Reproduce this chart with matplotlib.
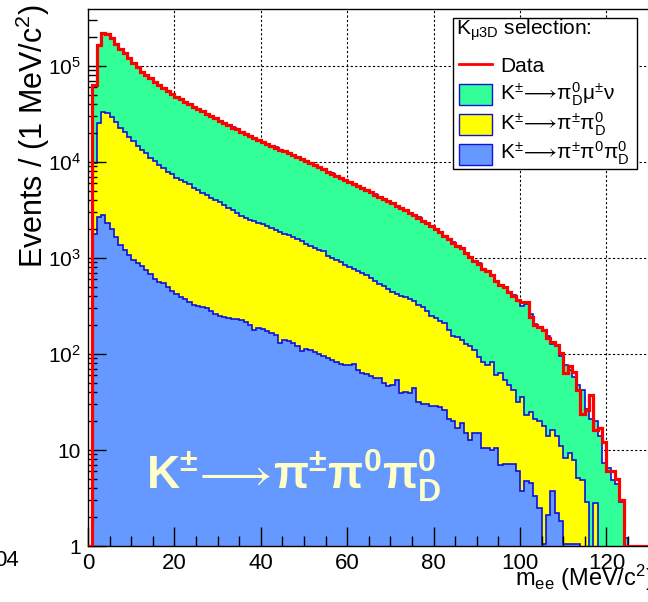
import numpy as np
import matplotlib.pyplot as plt
from matplotlib.patches import Rectangle
from matplotlib.lines import Line2D
from matplotlib.ticker import MultipleLocator, LogLocator, FuncFormatter, NullFormatter

plt.rcParams.update(
    {
        "font.family": ["Liberation Sans", "DejaVu Sans"],
        "mathtext.fontset": "custom",
        "mathtext.rm": "Liberation Sans",
        "mathtext.it": "Liberation Sans",
        "mathtext.bf": "Liberation Sans:bold",
        "mathtext.sf": "Liberation Sans",
        "mathtext.default": "rm",
        "mathtext.fallback": "stixsans",
    }
)

# ==================================================
# data: events per 1 MeV/c^2 bin, bins [0,1) ... [129,130)
# MC values are the stacked tops
# ==================================================
bin_edges = np.arange(0, 131)

data = [
    0, 63000, 166000, 219000, 214000, 195000, 168000, 150000, 136000, 120000,
    108000, 96800, 87300, 80500, 74500, 68700, 63100, 58500, 55000, 50700,
    47900, 45300, 42500, 39800, 37700, 35500, 33900, 31600, 30200, 28500,
    26900, 25700, 24300, 22900, 21900, 20700, 19700, 18600, 17800, 17000,
    16200, 15500, 14800, 14100, 13500, 12900, 12300, 11700, 11200, 10700,
    10200, 9770, 9230, 8810, 8410, 7940, 7590, 7240, 6840, 6530,
    6170, 5890, 5620, 5370, 5070, 4840, 4570, 4370, 4120, 3940,
    3720, 3510, 3310, 3130, 2950, 2790, 2630, 2450, 2290, 2140,
    2000, 1860, 1700, 1580, 1450, 1350, 1260, 1120, 1020, 933,
    871, 776, 724, 661, 575, 525, 501, 447, 407, 363,
    351, 351, 245, 200, 191, 178, 148, 135, 123, 102,
    63, 75, 65, 42, 24, 26, 37, 16, 17, 12,
    6, 6, 5, 3, 0, 0, 0, 0, 0, 0,
]

# K -> pi0_D mu nu  (sum of all three MC samples)
top_kmu3 = [
    0, 62000, 164000, 217000, 213000, 196000, 169000, 149000, 135000, 121000,
    107000, 97200, 87700, 80100, 74200, 68900, 62800, 58700, 54700, 50900,
    47700, 45100, 42700, 39600, 37600, 35700, 33700, 31800, 30000, 28600,
    26800, 25800, 24200, 23100, 21800, 20800, 19600, 18700, 17700, 17100,
    16100, 15600, 14700, 14200, 13400, 13000, 12200, 11800, 11100, 10800,
    10100, 9830, 9280, 8750, 8450, 7900, 7620, 7200, 6880, 6490,
    6210, 5850, 5660, 5330, 5100, 4800, 4600, 4340, 4150, 3910,
    3750, 3480, 3340, 3100, 2980, 2760, 2650, 2430, 2310, 2120,
    2010, 1840, 1710, 1560, 1460, 1330, 1270, 1110, 1030, 920,
    880, 768, 730, 652, 580, 518, 505, 440, 410, 365,
    316, 331, 263, 205, 188, 174, 155, 126, 120, 95,
    77, 68, 58, 48, 42, 27, 21, 20, 14, 7.3,
    6.5, 4.9, 4.4, 2.9, 1.2, 0, 0, 0, 0, 0,
]

# K -> pi pi0_D  (stacked on top of K3pi)
top_k2pi = [
    0, 9770, 25700, 33000, 32500, 29500, 26300, 22800, 20400, 18400,
    16600, 14800, 13300, 12300, 11100, 10200, 9330, 8590, 7940, 7450,
    6870, 6500, 6170, 5850, 5370, 5130, 4790, 4520, 4270, 4070,
    3800, 3550, 3350, 3160, 2920, 2750, 2630, 2510, 2430, 2340,
    2240, 2140, 2040, 1950, 1860, 1800, 1740, 1660, 1580, 1500,
    1410, 1320, 1260, 1220, 1170, 1050, 1000, 944, 902, 851,
    813, 776, 733, 692, 661, 617, 575, 537, 513, 479,
    447, 417, 403, 389, 372, 355, 324, 309, 282, 251,
    240, 222, 212, 178, 155, 151, 141, 126, 120, 110,
    93, 83, 77, 83, 60, 63, 54, 48, 42, 32,
    36, 23, 25, 21, 20, 18, 14, 16, 14, 11,
    8.2, 9.2, 7.9, 5.1, 4.9, 2.9, 0, 2.8, 0, 0,
    0, 0, 0, 0, 0, 0, 0, 0, 0, 0,
]

# K -> pi pi0 pi0_D
top_k3pi = [
    0, 1780, 2690, 2820, 2340, 2000, 1660, 1380, 1200, 1070,
    955, 881, 832, 750, 676, 603, 569, 550, 501, 457,
    427, 395, 373, 351, 324, 316, 309, 299, 282, 263,
    251, 243, 240, 234, 229, 226, 214, 200, 178, 188,
    182, 174, 166, 158, 129, 141, 138, 129, 120, 107,
    112, 110, 105, 101, 95, 90, 87, 83, 79, 77,
    77, 78, 68, 63, 62, 59, 56, 56, 50, 46,
    48, 54, 39, 40, 39, 44, 32, 30, 30, 29,
    29, 28, 26, 21, 20, 17, 19, 15, 12.6, 15,
    15, 10.5, 10.5, 10, 10.5, 6.9, 7.1, 7.2, 7.2, 6.0,
    3.7, 4.7, 4.5, 3.3, 2.5, 1.05, 2.1, 3.7, 2.2, 1.8,
    1.05, 1.05, 1.05, 1.05, 0, 0, 0, 0, 0, 0,
    0, 0, 0, 0, 0, 0, 0, 0, 0, 0,
]

GREEN = "#33ff99"
YELLOW = "#ffff00"
BLUE = "#6699ff"
EDGE = "#1010e0"

W, H = 648, 602


def fx(x):
    return x / W


def fy(y):
    return 1 - y / H


def floor(v, f):
    v = np.asarray(v, dtype=float)
    return np.where(v > 0, v, f)


fig = plt.figure(figsize=(W / 100, H / 100), dpi=100)
ax = fig.add_axes([fx(88), 56 / H, 561.6 / W, 537 / H])
ax.set_yscale("log")

# grid behind the histograms
for x in range(20, 130, 20):
    ax.axvline(x, color="black", lw=0.8, ls=(0, (2, 2)), zorder=0.5)
for e in range(1, 6):
    ax.axhline(10.0**e, color="black", lw=0.8, ls=(0, (2, 2)), zorder=0.5)

for vals, col, z in [
    (top_kmu3, GREEN, 1.0),
    (top_k2pi, YELLOW, 1.1),
    (top_k3pi, BLUE, 1.2),
]:
    ax.stairs(
        floor(vals, 1e-3),
        bin_edges,
        baseline=1e-3,
        fill=True,
        facecolor=col,
        edgecolor=EDGE,
        linewidth=1.2,
        zorder=z,
    )

ax.stairs(floor(data, 1.0), bin_edges, baseline=None, color="red", lw=2.3, zorder=3)

ax.set_xlim(0, 130)
ax.set_ylim(1, 3.93e5)

ax.xaxis.set_major_locator(MultipleLocator(20))
ax.xaxis.set_minor_locator(MultipleLocator(5))
ax.yaxis.set_major_locator(LogLocator(base=10, numticks=10))
ax.yaxis.set_minor_locator(LogLocator(base=10, subs=np.arange(2, 10), numticks=20))
ax.yaxis.set_minor_formatter(NullFormatter())


def ylab(v, pos):
    e = int(round(np.log10(v)))
    if e == 0:
        return "1"
    if e == 1:
        return "10"
    return f"$10^{{{e}}}$"


ax.yaxis.set_major_formatter(FuncFormatter(ylab))

ax.tick_params(which="both", direction="in", top=False, right=False, width=1)
ax.tick_params(axis="x", which="major", length=14, labelsize=16, pad=5)
ax.tick_params(axis="x", which="minor", length=7)
ax.tick_params(axis="y", which="major", length=13, labelsize=15, pad=5)
ax.tick_params(axis="y", which="minor", length=6.5)
for s in ax.spines.values():
    s.set_linewidth(1)

# axis titles
fig.text(fx(33), fy(4), "Events / (1 MeV/c$^{2}$)", rotation=90,
         ha="center", va="top", fontsize=22)
fig.text(fx(515), fy(586), "m$_{ee}$ (MeV/c$^{2}$)", ha="left",
         va="baseline", fontsize=17)
fig.text(fx(19), fy(566), "04", ha="right", va="baseline", fontsize=16)

ARROW = r"$\!\longrightarrow\!$"

# channel label
fig.text(fx(146), fy(489),
         r"K$\mathbf{^{\pm}}$" + ARROW + r"π$\mathbf{^{\pm}}$"
         r"π$\mathbf{^{0}}$π$\mathbf{^{0}_{D}}$",
         color="#ffffc8", fontsize=33, fontweight="bold", va="baseline")

# legend
fig.add_artist(Rectangle((fx(453), fy(169)), (637 - 453) / W, (169 - 18) / H,
                         transform=fig.transFigure, facecolor="white",
                         edgecolor="black", lw=1, zorder=5))
fig.text(fx(456), fy(35), r"K$_{\mu3D}$ selection:", fontsize=15,
         va="baseline", zorder=6)
fig.add_artist(Line2D([fx(459), fx(492)], [fy(64), fy(64)],
                      transform=fig.transFigure, color="red", lw=2, zorder=6))
fig.text(fx(500), fy(72), "Data", fontsize=15, va="baseline", zorder=6)

entries = [
    (84, GREEN, "K$^{\\pm}$" + ARROW + "π$^{0}_{D}$μ$^{\\pm}$ν", 100),
    (114, YELLOW, "K$^{\\pm}$" + ARROW + "π$^{\\pm}$π$^{0}_{D}$", 130),
    (144, BLUE, "K$^{\\pm}$" + ARROW + "π$^{\\pm}$π$^{0}$π$^{0}_{D}$", 159),
]
for y0, col, label, base in entries:
    fig.add_artist(Rectangle((fx(459), fy(y0 + 21)), 33 / W, 21 / H,
                             transform=fig.transFigure, facecolor=col,
                             edgecolor=EDGE, lw=1, zorder=6))
    fig.text(fx(500), fy(base), label, fontsize=15, va="baseline", zorder=6)

fig.savefig("out.png", dpi=100)
